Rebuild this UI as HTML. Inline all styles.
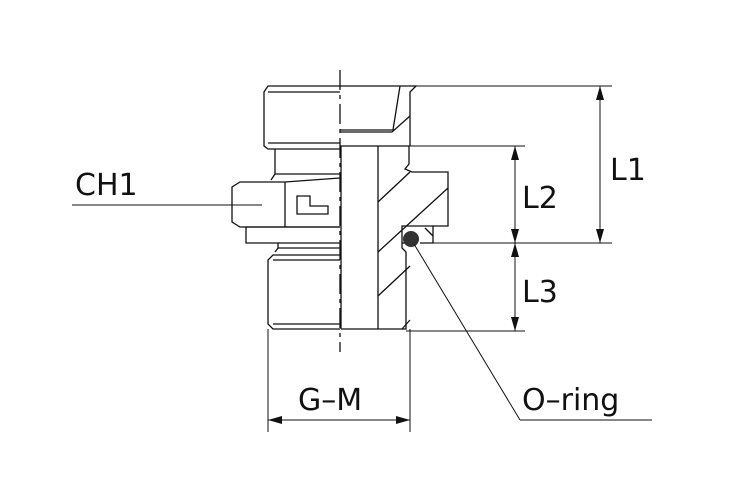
<!DOCTYPE html><html><head><style>body{margin:0;background:#fff}svg{display:block}</style></head><body>
<svg width="738" height="487" viewBox="0 0 738 487" xmlns="http://www.w3.org/2000/svg" font-family="'DejaVu Sans','Liberation Sans',sans-serif">
<g stroke="#111" stroke-width="1.3" fill="none">
<!-- centerline -->
<line x1="340" y1="70" x2="340" y2="352" stroke-dasharray="20,5,4,5"/>
<!-- top thread left -->
<path d="M340 86 H268 L264 92 V146 L268 149 H340"/>
<line x1="268" y1="92" x2="340" y2="92"/>
<line x1="268" y1="143" x2="340" y2="143"/>
<path d="M275 149 V174 L271 180"/>
<line x1="275" y1="174" x2="340" y2="174"/>
<!-- hex left -->
<path d="M340 178 L285 182 H240 L232 187 V222 L240 227 H340"/>
<path d="M285 182 V227"/>
<path d="M297 196 H310 V206 H328 V214 H297 Z"/>
<!-- washer -->
<path d="M340 227 H246 V243 H340"/>
<path d="M278 243 V248 L275 252"/><line x1="278" y1="248" x2="340" y2="248"/>
<!-- lower thread -->
<path d="M340 255 H273 L268 260 V324 L273 329 H340"/>
<line x1="273" y1="260" x2="340" y2="260"/>
<line x1="273" y1="324" x2="340" y2="324"/>
<!-- right section -->
<path d="M340 86 H416 L410 92 V146"/>
<path d="M400 86 L393 130 H340 M340 132 H392 L410 116"/>
<path d="M340 146 H410 M409 146 V164 L405 169 L412 172 H448 V226 H433 V243 H420"/>
<path d="M378 146 V329"/>
<path d="M341 146 V329"/>
<path d="M410 172 L378 202 M448 188 L378 252 M410 266 L378 296"/>
<path d="M433 226 H402 V248 L406 252 V329 H341"/>
<path d="M402 243 H410"/>
<path d="M425 228 L433 236"/>
<path d="M402 329 L410 320"/>
</g>
<circle cx="411" cy="239" r="8" fill="#333"/>
<g stroke="#111" stroke-width="1">
<line x1="416" y1="86" x2="612" y2="86"/>
<line x1="410" y1="146" x2="525" y2="146"/>
<line x1="420" y1="243" x2="612" y2="243"/>
<line x1="406" y1="331" x2="525" y2="331"/>
<line x1="268" y1="329" x2="268" y2="432"/>
<line x1="410" y1="329" x2="410" y2="432"/>
<line x1="600" y1="86" x2="600" y2="243"/>
<line x1="515" y1="146" x2="515" y2="331"/>
<line x1="268" y1="420" x2="410" y2="420"/>
<line x1="72" y1="205" x2="262" y2="205"/>
<line x1="414" y1="244" x2="520" y2="420"/>
<line x1="520" y1="420" x2="652" y2="420"/>
</g>
<g fill="#111">
<path d="M600 86 l-4 14 h8z M600 243 l-4 -14 h8z"/>
<path d="M515 146 l-4 14 h8z M515 243 l-4 -14 h8z M515 243 l-4 14 h8z M515 331 l-4 -14 h8z"/>
<path d="M268 420 l14 -4 v8z M410 420 l-14 -4 v8z"/>
</g>
<g font-size="30" fill="#111">
<text x="75" y="195">CH1</text>
<text x="610" y="180">L1</text>
<text x="522" y="208">L2</text>
<text x="522" y="302">L3</text>
<text x="298" y="410">G–M</text>
<text x="522" y="410">O–ring</text>
</g>
</svg></body></html>
